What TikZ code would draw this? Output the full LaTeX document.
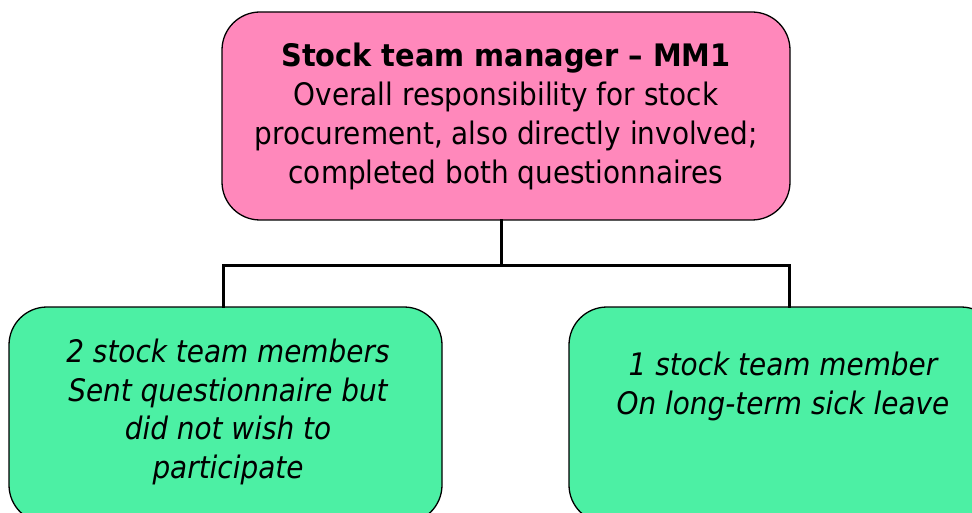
\documentclass[tikz,border=0pt]{standalone}
\usepackage{fontspec}
\setmainfont{DejaVu Sans}[FakeStretch=0.9, BoldFeatures={FakeStretch=0.93}]
\definecolor{pinkfill}{HTML}{FF88BB}
\definecolor{greenfill}{HTML}{4CF0A4}
\begin{document}
\begin{tikzpicture}[x=1pt,y=-1pt,
  box/.style={draw=black, line width=1.3pt, rounded corners=38pt, inner sep=0pt},
  txt/.style={align=center, font=\fontsize{31}{39}\selectfont, inner sep=0pt},
  conn/.style={line width=3pt, line cap=rect}]
\useasboundingbox (0,0) rectangle (972,513);
\begin{scope}
\clip (0,0) rectangle (972,513);
\node[box, fill=pinkfill, minimum width=568pt, minimum height=208pt] (top) at (506,116) {};
\node[txt] (toptext) at (506,116) {{\bfseries Stock team manager -- MM1}\\Overall responsibility for stock\\procurement, also directly involved;\\completed both questionnaires};
\node[box, fill=greenfill, minimum width=433pt, minimum height=216pt] (left) at (225.5,415) {};
\node[txt, font=\fontsize{31}{38.5}\selectfont\itshape] (lefttext) at (228,412) {2 stock team members\\Sent questionnaire but\\did not wish to\\participate};
\node[box, fill=greenfill, minimum width=430pt, minimum height=216pt] (right) at (784,415) {};
\node[txt, font=\fontsize{31}{39}\selectfont\itshape] (righttext) at (783,386) {1 stock team member\\On long-term sick leave};
\coordinate (hl) at (223,265);
\coordinate (hr) at (789,265);
\coordinate (hm) at (501,265);
\draw[conn] (top.south -| hm) -- (hm);
\draw[conn] (left.north -| hl) -- (hl) -- (hr) -- (right.north -| hr);
\end{scope}
\end{tikzpicture}
\end{document}
